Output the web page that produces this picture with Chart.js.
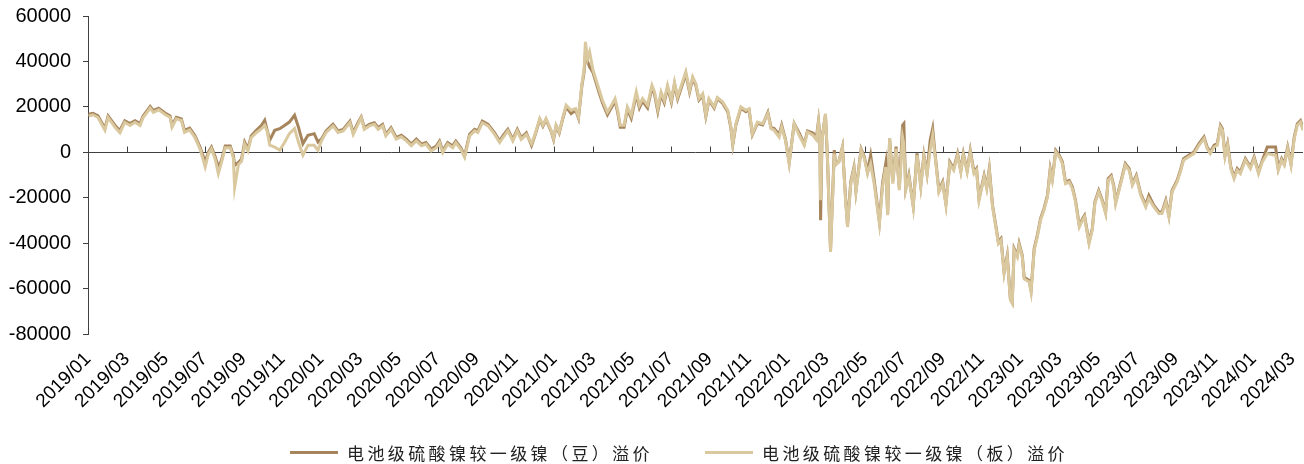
<!DOCTYPE html>
<html>
<head>
<meta charset="utf-8">
<script src="https://cdn.jsdelivr.net/npm/chart.js@4.4.1/dist/chart.umd.min.js"></script>
<style>
html,body{margin:0;padding:0;background:#fff;}
#wrap{position:relative;width:1304px;height:464px;}
#legend{position:absolute;left:290px;top:440px;height:24px;display:flex;align-items:center;font-family:"Noto Sans CJK SC";font-size:17px;letter-spacing:3.4px;color:#222;white-space:nowrap;}
.item{display:flex;align-items:center;margin-right:52px;}
.swatch{width:48px;height:3px;margin-right:9px;}
</style>
</head>
<body>
<div id="wrap">
<canvas id="chart" width="1304" height="464"></canvas>
<div id="legend"></div>
</div>
<script>
// trading days (yyyy-mm-dd)
const dates=[
'2019-01-02','2019-01-09','2019-01-17','2019-01-28','2019-02-02','2019-02-07','2019-02-12','2019-02-19','2019-02-26','2019-03-06','2019-03-14','2019-03-22','2019-03-27','2019-04-07','2019-04-12','2019-04-20','2019-04-30','2019-05-08','2019-05-11','2019-05-18','2019-05-26','2019-05-31','2019-06-08','2019-06-16','2019-06-24','2019-07-02','2019-07-07','2019-07-12','2019-07-18','2019-07-23','2019-07-28','2019-08-03','2019-08-11','2019-08-16','2019-08-18','2019-08-24','2019-08-29','2019-09-03','2019-09-08','2019-09-13','2019-09-21','2019-09-29','2019-10-04','2019-10-08','2019-10-12','2019-10-20','2019-10-28','2019-11-05','2019-11-12','2019-11-20','2019-11-26','2019-12-03','2019-12-11','2019-12-21','2019-12-27',
'2020-01-02','2020-01-09','2020-01-20','2020-01-28','2020-02-05','2020-02-15','2020-02-20','2020-02-27','2020-03-03','2020-03-08','2020-03-16','2020-03-24','2020-03-30','2020-04-06','2020-04-11','2020-04-19','2020-04-27','2020-05-05','2020-05-13','2020-05-21','2020-05-29','2020-06-06','2020-06-13','2020-06-21','2020-06-29','2020-07-04','2020-07-09','2020-07-17','2020-07-25','2020-07-30','2020-08-07','2020-08-13','2020-08-21','2020-08-29','2020-09-03','2020-09-10','2020-09-19','2020-09-29','2020-10-07','2020-10-12','2020-10-20','2020-10-28','2020-11-04','2020-11-10','2020-11-18','2020-11-26','2020-12-01','2020-12-09','2020-12-14','2020-12-19','2020-12-27','2020-12-31',
'2021-01-04','2021-01-09','2021-01-15','2021-01-20','2021-01-28','2021-02-04','2021-02-08','2021-02-13','2021-02-16','2021-02-18','2021-02-21','2021-02-24','2021-03-01','2021-03-06','2021-03-11','2021-03-16','2021-03-24','2021-03-29','2021-04-05','2021-04-09','2021-04-13','2021-04-19','2021-04-24','2021-04-30','2021-05-08','2021-05-13','2021-05-18','2021-05-26','2021-06-02','2021-06-06','2021-06-11','2021-06-16','2021-06-21','2021-06-26','2021-07-02','2021-07-07','2021-07-12','2021-07-18','2021-07-25','2021-07-31','2021-08-05','2021-08-10','2021-08-15','2021-08-21','2021-08-26','2021-08-31','2021-09-08','2021-09-13','2021-09-21','2021-09-29','2021-10-04','2021-10-07','2021-10-12','2021-10-20','2021-10-28','2021-11-02','2021-11-07','2021-11-15','2021-11-23','2021-12-01','2021-12-06','2021-12-11','2021-12-19','2021-12-23','2021-12-29',
'2022-01-04','2022-01-12','2022-01-20','2022-01-28','2022-02-02','2022-02-10','2022-02-15','2022-02-18','2022-02-20','2022-02-21','2022-02-23','2022-02-28','2022-03-03','2022-03-08','2022-03-14','2022-03-16','2022-03-21','2022-03-27','2022-04-01','2022-04-04','2022-04-09','2022-04-14','2022-04-17','2022-04-25','2022-04-30','2022-05-05','2022-05-10','2022-05-16','2022-05-24','2022-05-29','2022-06-03','2022-06-06','2022-06-09','2022-06-14','2022-06-19','2022-06-24','2022-06-29','2022-07-01','2022-07-04','2022-07-09','2022-07-16','2022-07-22','2022-07-28','2022-08-02','2022-08-07','2022-08-12','2022-08-16','2022-08-20','2022-08-26','2022-09-01','2022-09-06','2022-09-12','2022-09-18','2022-09-24','2022-09-29','2022-10-03','2022-10-09','2022-10-14','2022-10-20','2022-10-24','2022-10-28','2022-11-05','2022-11-09','2022-11-13','2022-11-18','2022-11-23','2022-11-27','2022-12-01','2022-12-06','2022-12-11','2022-12-16','2022-12-19','2022-12-22','2022-12-27','2022-12-30',
'2023-01-04','2023-01-07','2023-01-15','2023-01-18','2023-01-23','2023-01-28','2023-02-02','2023-02-07','2023-02-12','2023-02-16','2023-02-19','2023-02-24','2023-03-01','2023-03-06','2023-03-11','2023-03-17','2023-03-22','2023-03-27','2023-04-02','2023-04-07','2023-04-10','2023-04-17','2023-04-22','2023-04-26','2023-05-02','2023-05-08','2023-05-13','2023-05-17','2023-05-22','2023-05-26','2023-05-29','2023-06-06','2023-06-13','2023-06-19','2023-06-24','2023-06-30','2023-07-07','2023-07-15','2023-07-20','2023-07-28','2023-08-05','2023-08-10','2023-08-16','2023-08-21','2023-08-26','2023-09-03','2023-09-08','2023-09-13','2023-09-21','2023-09-29','2023-10-07','2023-10-15','2023-10-20','2023-10-25','2023-10-31','2023-11-05','2023-11-10','2023-11-13','2023-11-17','2023-11-21','2023-11-26','2023-12-01','2023-12-06','2023-12-11','2023-12-19','2023-12-27',
'2024-01-02','2024-01-09','2024-01-15','2024-01-23','2024-02-05','2024-02-09','2024-02-14','2024-02-18','2024-02-23','2024-02-28','2024-03-04','2024-03-09','2024-03-14','2024-03-18'
];
// 电池级硫酸镍较一级镍（豆）溢价
const douPremium=[
16800,17200,16000,10500,16000,13900,11800,9600,13900,12600,13900,12600,16000,20200,18300,19400,17300,16000,11800,15400,14700,9600,10600,7400,2300,-4300,0,2300,-2000,-6500,-3600,2800,2800,-1500,-5700,-4500,-3000,4500,1500,7200,9700,11900,14100,9700,5300,9700,10400,11900,13300,16300,11100,3800,7500,8200,4500,
6000,9400,12300,9400,10100,13700,8600,13000,15600,10800,12300,13000,10800,12300,7900,10800,6500,7500,5800,3600,5800,3600,4300,1400,2800,4900,700,4300,2800,4900,2000,-1500,7900,10100,9400,13700,12300,8600,5000,7200,10100,5700,10100,6400,8600,3000,7200,14400,11500,14400,9300,5600,
11500,8500,15100,20000,17000,18500,15000,29500,35000,43400,40000,37600,35000,30500,26000,21800,16500,19000,22500,17500,11000,11000,19000,15000,25500,19500,22500,19500,28500,25500,18000,25500,21800,28500,22000,30000,23500,28500,34500,26500,32500,29500,23000,25000,15800,23000,19500,23600,21600,17900,10600,3300,12100,19500,17900,18700,7700,12800,12100,17500,11000,10500,7800,12000,5800,
-4500,12600,8500,3600,9400,8500,6500,13800,7000,-29900,6000,16500,-2000,-43000,1000,-5000,-4300,2300,-20000,-32000,-13000,-6500,-17000,1500,-2000,-8500,-1300,-13000,-30500,-13500,-5000,-27000,6000,-12500,2500,-15500,11900,12600,-16000,-10000,-23500,-500,-14500,-1300,-9400,5300,10400,-1300,-16800,-13000,-22500,-4300,-7200,-600,-8000,-600,-8000,800,-8700,-7200,-20400,-10200,-15300,-7200,-23400,-32200,-39500,-38000,-52700,-45400,-64400,-66000,-42400,-45400,-40200,
-45400,-55000,-56400,-60800,-42400,-36600,-29200,-24800,-19000,-7200,-11600,800,-1300,-4300,-13100,-12400,-15300,-21200,-32200,-29200,-27800,-39500,-33600,-21900,-16800,-21300,-26300,-11600,-10200,-14600,-21900,-13100,-5000,-7200,-13800,-10200,-18200,-23400,-19000,-23400,-26300,-26300,-21200,-27800,-16800,-12400,-8000,-2800,-1300,100,3800,6700,2300,100,3000,3800,11800,10400,-1300,3800,-6500,-10900,-7200,-8700,-2800,-6500,
-2100,-8700,-3600,2300,2300,-7200,-2800,-5000,2300,-5000,6700,12600,14000,10400
];
// 电池级硫酸镍较一级镍（板）溢价
const banPremium=[
16000,16500,15300,9700,15300,13200,11000,8600,13200,11800,13200,11800,15300,19500,17600,18700,16600,15300,11000,14700,14000,8800,9900,6600,1500,-6400,-800,1500,-3000,-9400,-4500,2000,2000,-2500,-15500,-5500,-4000,3500,600,6400,8600,10400,11900,9200,3100,2300,900,4500,8200,10400,4500,-1300,3100,3100,900,
5300,8700,11600,8700,9400,13000,7900,12300,15200,10100,11600,12300,10100,11600,7200,10100,5800,6800,5000,2900,5000,2900,3600,600,2000,4200,-100,3600,2000,4200,1300,-2200,7200,9400,8700,13000,11600,7900,4300,6400,9400,5000,9400,5700,7900,3800,7500,14800,11900,14800,9700,6000,
11900,8900,15500,20700,18500,19200,15500,30200,36100,48600,41200,44200,36100,31700,27300,22900,17700,20000,23600,18500,11900,11900,20000,16300,26600,20700,23600,20700,29500,26600,19200,26600,22900,29500,22900,30900,24400,29500,35400,27300,33200,30200,23600,25800,16300,23600,20000,24100,22200,18500,11100,3800,12600,20000,18500,19200,8200,13300,12600,17000,10400,9700,6700,11100,5300,
-5000,12600,7500,3100,8900,7500,5500,13300,6700,-21100,5300,17000,-2000,-43900,-600,-5700,-4300,2300,-21100,-32900,-13800,-7200,-17500,900,-2800,-9400,-5000,-14500,-31400,-15300,-6500,-27700,6000,-13800,1600,-16700,6700,3800,-16700,-10900,-24100,-1300,-15300,-2000,-10100,900,7500,-2000,-17500,-13800,-23300,-5000,-7900,-1300,-8700,-1300,-8700,150,-9400,-7900,-21100,-10900,-16000,-7900,-24100,-32900,-40200,-38700,-53400,-46100,-65100,-66600,-43100,-46100,-40900,
-46100,-55700,-57100,-61500,-43100,-37300,-29900,-25500,-19700,-7900,-12300,150,-2000,-5000,-13800,-13100,-16000,-21900,-32900,-29900,-28500,-40200,-34300,-22600,-17500,-22000,-27000,-12300,-10900,-15300,-22600,-13800,-5700,-7900,-14500,-10900,-18900,-24100,-20400,-24100,-27000,-27000,-21900,-28500,-17500,-13100,-8700,-3500,-2000,-600,3100,6000,1600,-600,2300,3100,11100,9700,-2000,3100,-7200,-11600,-7900,-9400,-3500,-7200,
-2800,-9400,-4300,-600,-1300,-7900,-3500,-5700,1600,-5700,6000,11900,13300,9700
];
const seriesNames=['电池级硫酸镍较一级镍（豆）溢价','电池级硫酸镍较一级镍（板）溢价'];
const seriesColors=['#A6845C','#DAC89F'];
const tickLabels=['2019/01','2019/03','2019/05','2019/07','2019/09','2019/11','2020/01','2020/03','2020/05','2020/07','2020/09','2020/11','2021/01','2021/03','2021/05','2021/07','2021/09','2021/11','2022/01','2022/03','2022/05','2022/07','2022/09','2022/11','2023/01','2023/03','2023/05','2023/07','2023/09','2023/11','2024/01','2024/03'];

// months elapsed since 2019/01 for a date string
function monthPos(s){
  const [y,m,d]=s.split('-').map(Number);
  const dim=new Date(y,m,0).getDate();
  return (y-2019)*12+(m-1)+(d-1)/dim;
}

// zero line with small upward tick marks, like the original
const zeroAxis={
  id:'zeroAxis',
  beforeDatasetsDraw(chart){
    const {ctx,chartArea,scales:{x,y}}=chart;
    const y0=Math.round(y.getPixelForValue(0))+0.5;
    ctx.save();
    ctx.strokeStyle='#404040';
    ctx.lineWidth=1;
    ctx.beginPath();
    ctx.moveTo(chartArea.left,y0);
    ctx.lineTo(chartArea.right,y0);
    x.ticks.forEach(t=>{
      const px=Math.round(x.getPixelForValue(t.value))+0.5;
      ctx.moveTo(px,y0);
      ctx.lineTo(px,y0-6);
    });
    ctx.stroke();
    ctx.restore();
  }
};

const data1=dates.map((d,i)=>({x:monthPos(d),y:douPremium[i]}));
const data2=dates.map((d,i)=>({x:monthPos(d),y:banPremium[i]}));

new Chart(document.getElementById('chart').getContext('2d'),{
  type:'line',
  data:{datasets:[
    {label:seriesNames[0],data:data1,borderColor:seriesColors[0],borderWidth:3,pointRadius:0,tension:0,order:1},
    {label:seriesNames[1],data:data2,borderColor:seriesColors[1],borderWidth:3,pointRadius:0,tension:0,order:0}
  ]},
  options:{
    responsive:false,
    animation:false,
    layout:{padding:{top:0,right:1,bottom:44,left:0}},
    plugins:{legend:{display:false},tooltip:{enabled:false}},
    scales:{
      x:{
        type:'linear',
        min:0,
        max:monthPos(dates[dates.length-1]),
        grid:{display:false,drawTicks:false},
        border:{display:false},
        ticks:{
          stepSize:2,includeBounds:false,autoSkip:false,
          minRotation:45,maxRotation:45,padding:14,
          color:'#000',font:{family:'Liberation Sans',size:19},
          callback:v=>Number.isInteger(v/2)?tickLabels[v/2]:''
        },
        afterFit(s){s.height=86;s.paddingLeft=0;s.paddingRight=0;}
      },
      y:{
        min:-80000,max:60000,
        ticks:{stepSize:20000,padding:12,color:'#000',font:{family:'Liberation Sans',size:20},callback:v=>String(v)},
        grid:{drawOnChartArea:false,drawTicks:true,tickLength:5,color:'#404040'},
        border:{color:'#404040',width:1},
        afterFit(s){s.width=88;s.paddingTop=16;s.paddingBottom=0;}
      }
    }
  },
  plugins:[zeroAxis]
});

// legend below the chart
const lg=document.getElementById('legend');
seriesNames.forEach((n,i)=>{
  const it=document.createElement('div');
  it.className='item';
  it.innerHTML='<span class="swatch" style="background:'+seriesColors[i]+'"></span><span>'+n+'</span>';
  lg.appendChild(it);
});
</script>
</body>
</html>
